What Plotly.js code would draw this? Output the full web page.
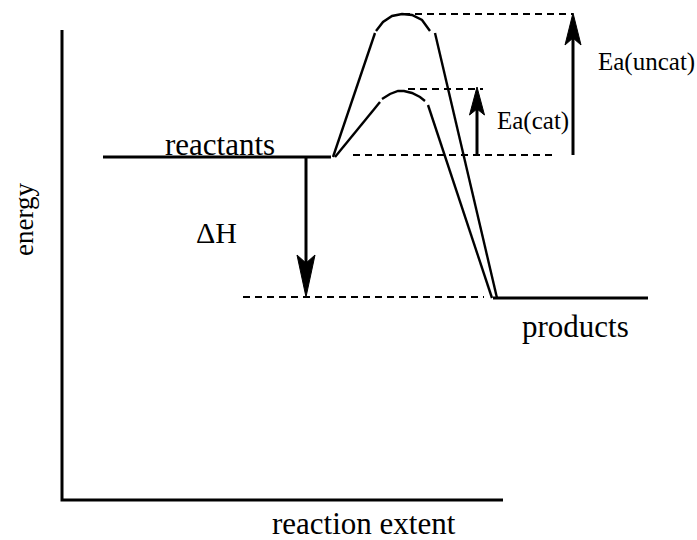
<!DOCTYPE html>
<html>
<head>
<meta charset="utf-8">
<script src="https://cdn.plot.ly/plotly-3.0.1.min.js"></script>
<style>html,body{margin:0;padding:0;background:#fff;}#chart{width:697px;height:540px;}</style>
</head>
<body>
<div id="chart"></div>
<script>
// Energy levels (energy units, axis origin = 0)
const levelNames = ["reactants", "products"];
const levelX0 = [41, 431];
const levelX1 = [269, 586];
const levelE = [343, 202];

// Uncatalysed path (three segments with small gaps)
const uncatLeftX = [271, 313];
const uncatLeftE = [343, 467];
const uncatArcX = [314, 321, 330, 340, 350, 360, 368];
const uncatArcE = [469, 478, 484, 486, 485, 480, 469];
const uncatRightX = [373, 435];
const uncatRightE = [467, 202];

// Catalysed path
const catLeftX = [273, 318];
const catLeftE = [343, 398];
const catArcX = [320, 328, 336, 342, 350, 358, 363];
const catArcE = [401, 406, 409, 409, 407, 403, 399];
const catRightX = [366, 430];
const catRightE = [395, 202];

// Dashed reference levels: [x0, x1, energy]
const refNames = ["uncat peak", "cat peak", "reactant level", "product level"];
const refX0 = [341, 346, 291, 181];
const refX1 = [511, 421, 490, 422];
const refE = [486, 411, 345, 203];

// Arrows: x, start energy, end energy
const arrowNames = ["ΔH", "Ea(cat)", "Ea(uncat)"];
const arrowX = [244, 415, 511];
const arrowFrom = [342, 345, 345];
const arrowTo = [203, 413, 487];

// Axes extents
const axisXmax = 441;
const axisEmax = 470;

const BLACK = "#000";
const traces = [];

function line(xs, ys, w, dash) {
  traces.push({x: xs, y: ys, type: "scatter", mode: "lines",
    line: {color: BLACK, width: w, dash: dash || "solid"}, hoverinfo: "skip"});
}

// axes
line([0, 0, axisXmax], [axisEmax, 0, 0], 3);

// levels
for (let i = 0; i < levelE.length; i++) line([levelX0[i], levelX1[i]], [levelE[i], levelE[i]], 3);

// reaction paths
line(uncatLeftX, uncatLeftE, 2.4);
line(uncatArcX, uncatArcE, 2.4);
line(uncatRightX, uncatRightE, 2.4);
line(catLeftX, catLeftE, 2.4);
line(catArcX, catArcE, 2.4);
line(catRightX, catRightE, 2.4);

// dashed references
for (let i = 0; i < refE.length; i++) {
  traces.push({x: [refX0[i], refX1[i]], y: [refE[i], refE[i]], type: "scatter", mode: "lines",
    line: {color: BLACK, width: 2.2, dash: "7px,5px"}, hoverinfo: "skip"});
}

// arrows
const headLen = [42, 28, 32];
const headHalf = [9, 7.5, 8];
const notch = [8, 6, 7];
for (let i = 0; i < arrowX.length; i++) {
  const dir = arrowTo[i] > arrowFrom[i] ? 1 : -1;
  const back = arrowTo[i] - dir * headLen[i];
  const nb = back + dir * notch[i];
  line([arrowX[i], arrowX[i]], [arrowFrom[i], nb], 3);
  traces.push({
    x: [arrowX[i], arrowX[i] - headHalf[i], arrowX[i], arrowX[i] + headHalf[i], arrowX[i]],
    y: [arrowTo[i], back, nb, back, arrowTo[i]],
    type: "scatter", mode: "lines", fill: "toself", fillcolor: BLACK,
    line: {color: BLACK, width: 1}, hoverinfo: "skip"
  });
}

const serif = "Liberation Serif, Times New Roman, serif";
function ann(text, x, y, size, extra) {
  return Object.assign({text: text, x: x, y: y, xref: "x", yref: "y", showarrow: false,
    xanchor: "center", yanchor: "middle", font: {family: serif, size: size, color: BLACK}}, extra || {});
}

const annotations = [
  ann(levelNames[0], 158, 356, 31),
  ann(levelNames[1], 513, 174, 31),
  ann(arrowNames[0], 154, 268, 30),
  ann(arrowNames[1], 471, 379, 25),
  ann(arrowNames[2], 584, 438, 25),
  ann("reaction extent", 302, -23, 31),
  ann("energy", -38, 280, 27, {textangle: -90})
];

const layout = {
  width: 697, height: 540,
  margin: {l: 0, r: 0, t: 0, b: 0},
  paper_bgcolor: "#fff", plot_bgcolor: "#fff",
  showlegend: false,
  xaxis: {range: [-62, 635], visible: false, fixedrange: true},
  yaxis: {range: [-40, 500], visible: false, fixedrange: true},
  annotations: annotations
};

Plotly.newPlot("chart", traces, layout, {displayModeBar: false, staticPlot: true});
</script>
</body>
</html>
